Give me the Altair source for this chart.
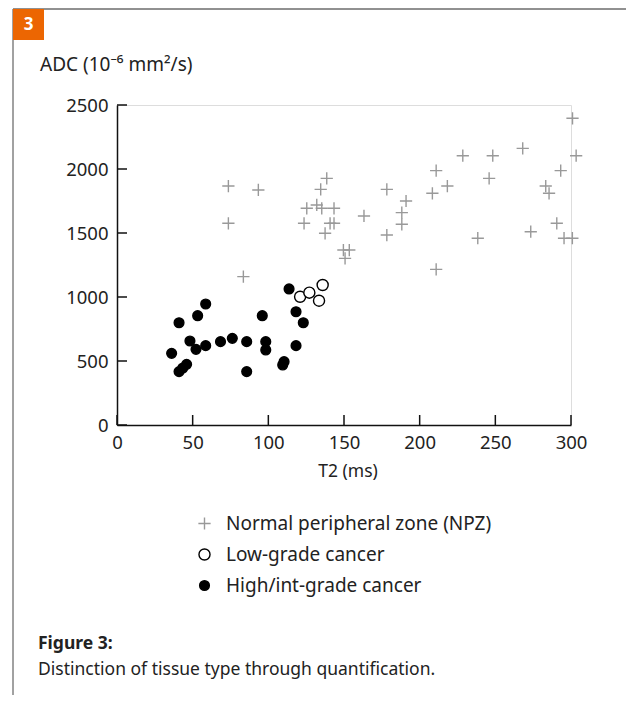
import altair as alt
import pandas as pd

FONT = "Noto Sans"

categories = ["Normal peripheral zone (NPZ)", "Low-grade cancer", "High/int-grade cancer"]

npz_t2 = [73.6, 93.4, 138.6, 134.6, 125.4, 132.0, 135.3, 143.4, 73.6, 123.6, 140.8, 143.4,
          137.5, 149.6, 153.5, 150.7, 83.5, 301.0, 303.4, 268.1, 228.5, 248.3, 210.9, 293.2,
          245.9, 218.3, 178.3, 283.3, 285.5, 208.4, 191.0, 188.2, 188.2, 163.2, 178.3, 290.6,
          273.4, 238.4, 295.4, 300.9, 210.9]
npz_adc = [1867, 1836, 1927, 1841, 1693, 1719, 1693, 1693, 1576, 1576, 1576, 1576,
           1498, 1367, 1367, 1302, 1159, 2396, 2104, 2161, 2104, 2104, 1987, 1987,
           1927, 1867, 1841, 1867, 1810, 1810, 1750, 1659, 1568, 1633, 1484, 1576,
           1510, 1459, 1459, 1459, 1216]

high_t2 = [113.7, 58.6, 53.3, 41.0, 96.0, 118.3, 123.1, 48.2, 52.2, 58.6, 68.4, 76.2,
           85.7, 98.3, 98.3, 118.3, 36.1, 46.0, 43.5, 41.0, 85.7, 110.4, 109.5]
high_adc = [1063, 945, 854, 799, 854, 885, 799, 656, 591, 620, 651, 677,
            651, 651, 586, 620, 560, 474, 445, 417, 417, 495, 469]

low_t2 = [121.0, 127.1, 135.9, 133.5]
low_adc = [1002, 1034, 1094, 971]

x_ticks = [0, 50, 100, 150, 200, 250, 300]
y_ticks = [0, 500, 1000, 1500, 2000, 2500]

y_title = "ADC (10\u207b\u2076 mm\u00b2/s)"
x_title = "T2 (ms)"
panel_label = "3"
caption_title = "Figure 3:"
caption_text = "Distinction of tissue type through quantification."

rows = []
for t, a in zip(npz_t2, npz_adc):
    rows.append({"T2": t, "ADC": a, "group": categories[0]})
for t, a in zip(high_t2, high_adc):
    rows.append({"T2": t, "ADC": a, "group": categories[2]})
for t, a in zip(low_t2, low_adc):
    rows.append({"T2": t, "ADC": a, "group": categories[1]})
df = pd.DataFrame(rows)

W, H = 454, 320

points = alt.Chart(df).mark_point(opacity=1, strokeWidth=1.4).encode(
    x=alt.X("T2:Q", scale=alt.Scale(domain=[0, 300], nice=False, zero=True),
            axis=alt.Axis(values=x_ticks, ticks=False, grid=False, title=None,
                          format="d", labelFlush=False,
                          domainColor="#111", domainWidth=1.5, labelPadding=8,
                          labelFontSize=18.5, labelColor="#222", labelFont=FONT)),
    y=alt.Y("ADC:Q", scale=alt.Scale(domain=[0, 2500], nice=False),
            axis=alt.Axis(values=y_ticks, ticks=False, grid=False, title=None,
                          format="d", labelFlush=False,
                          domainColor="#111", domainWidth=1.5, labelPadding=9,
                          labelFontSize=18.5, labelColor="#222", labelFont=FONT)),
    shape=alt.Shape("group:N", title=None, scale=alt.Scale(domain=categories,
                    range=["M-1,0L1,0M0,-1L0,1", "circle", "circle"])),
    fill=alt.Fill("group:N", title=None, scale=alt.Scale(domain=categories,
                  range=["transparent", "white", "black"])),
    stroke=alt.Stroke("group:N", title=None, scale=alt.Scale(domain=categories,
                      range=["#999999", "black", "black"])),
    size=alt.Size("group:N", title=None, scale=alt.Scale(domain=categories,
                  range=[150, 95, 130])),
)

ytick_df = pd.DataFrame({"v": y_ticks})
xtick_df = pd.DataFrame({"v": x_ticks})

yticks = alt.Chart(ytick_df).mark_rule(color="#111", strokeWidth=1.5).encode(
    y="v:Q", x=alt.value(0), x2=alt.value(10))
xticks = alt.Chart(xtick_df).mark_rule(color="#111", strokeWidth=1.5).encode(
    x="v:Q", y=alt.value(H), y2=alt.value(H - 10))

one = pd.DataFrame({"a": [0]})

left_line = alt.Chart(one).mark_rule(color="#444", strokeWidth=1).encode(
    x=alt.value(-104), y=alt.value(-96), y2=alt.value(700))
top_line = alt.Chart(one).mark_rule(color="#222", strokeWidth=1).encode(
    x=alt.value(-104), x2=alt.value(520), y=alt.value(-96))
orange = alt.Chart(one).mark_rect(color="#EC6602").encode(
    x=alt.value(-104), x2=alt.value(-73), y=alt.value(-96), y2=alt.value(-65))
num = alt.Chart(one).mark_text(text=panel_label, color="white", fontSize=17,
                               fontWeight="bold", font=FONT, align="center",
                               baseline="middle").encode(
    x=alt.value(-88.5), y=alt.value(-80))
ytitle = alt.Chart(one).mark_text(text=y_title, color="#222", fontSize=19, font=FONT,
                                  align="left", baseline="alphabetic").encode(
    x=alt.value(-77), y=alt.value(-34))
xtitle = alt.Chart(one).mark_text(text=x_title, color="#222", fontSize=17.5, font=FONT,
                                  align="center", baseline="alphabetic").encode(
    x=alt.value(231), y=alt.value(372))
cap1 = alt.Chart(one).mark_text(text=caption_title, color="#222", fontSize=17.5, font=FONT,
                                fontWeight="bold", align="left",
                                baseline="alphabetic").encode(
    x=alt.value(-79), y=alt.value(544))
cap2 = alt.Chart(one).mark_text(text=caption_text, color="#222", fontSize=17.5, font=FONT,
                                align="left", baseline="alphabetic").encode(
    x=alt.value(-79), y=alt.value(570))

chart = alt.layer(
    left_line, top_line, orange, num, ytitle, xtitle, cap1, cap2,
    yticks, xticks, points,
).properties(
    width=W, height=H,
    autosize=alt.AutoSizeParams(type="none"),
    padding={"left": 109, "top": 97, "right": 55, "bottom": 270},
).configure_view(stroke=None).configure(font=FONT).configure_legend(
    orient="none", legendX=78, legendY=409, labelFontSize=19, labelFont=FONT,
    labelColor="#222", labelOffset=12, rowPadding=11, padding=0, labelLimit=0,
    symbolStrokeWidth=1.4, symbolType="circle",
)

chart.save("out.html", embed_options={"renderer": "svg", "actions": False})
